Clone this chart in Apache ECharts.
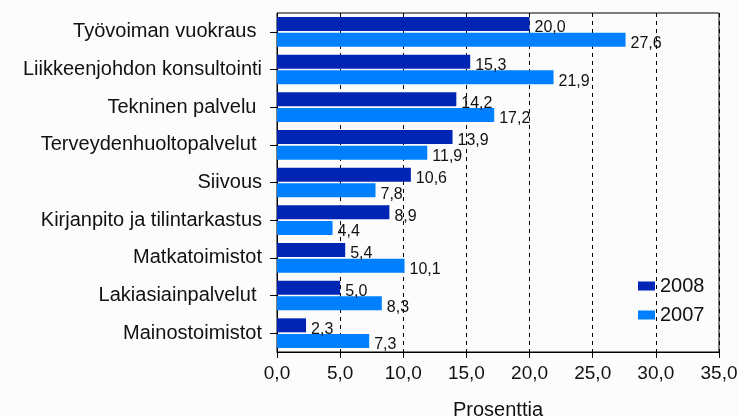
<!DOCTYPE html>
<html>
<head>
<meta charset="utf-8">
<script src="https://cdn.jsdelivr.net/npm/echarts@6/dist/echarts.min.js"></script>
<style>
  html, body { margin: 0; padding: 0; background: #fcfcfc; }
  #chart { width: 738px; height: 417px; }
</style>
</head>
<body>
<div id="chart"></div>
<script>
// toimialat (ylhäältä alas)
const categories = [
  'Työvoiman vuokraus ',
  'Liikkeenjohdon konsultointi',
  'Tekninen palvelu ',
  'Terveydenhuoltopalvelut ',
  'Siivous',
  'Kirjanpito ja tilintarkastus',
  'Matkatoimistot',
  'Lakiasiainpalvelut ',
  'Mainostoimistot'
]
const values2008 = [20.0, 15.3, 14.2, 13.9, 10.6, 8.9, 5.4, 5.0, 2.3]
const values2007 = [27.6, 21.9, 17.2, 11.9, 7.8, 4.4, 10.1, 8.3, 7.3]
const seriesNames = ['2008', '2007']
const axisName = 'Prosenttia'

const font = 'Liberation Sans'
const fmt = v => v.toFixed(1).replace('.', ',')

const label = {
  show: true,
  position: 'right',
  distance: 5,
  offset: [0, 4],
  fontFamily: font,
  fontSize: 16,
  color: '#111',
  formatter: p => fmt(p.value)
}

const chart = echarts.init(document.getElementById('chart'))
chart.setOption({
  backgroundColor: '#fcfcfc',
  animation: false,
  grid: {
    left: 277,
    right: 19,
    top: 13,
    bottom: 65,
    containLabel: false,
    outerBoundsMode: 'none',
    show: true,
    borderColor: '#000',
    borderWidth: 1,
    backgroundColor: 'transparent'
  },
  legend: {
    data: seriesNames,
    orient: 'vertical',
    left: 633,
    top: 271,
    itemWidth: 17,
    itemHeight: 9,
    itemGap: 9,
    icon: 'rect',
    textStyle: { fontFamily: font, fontSize: 20, color: '#111' }
  },
  xAxis: {
    type: 'value',
    min: 0,
    max: 35,
    interval: 5,
    name: axisName,
    nameLocation: 'middle',
    nameGap: 48,
    nameTextStyle: { fontFamily: font, fontSize: 20, color: '#111' },
    axisLine: { show: true, lineStyle: { color: '#000', width: 1 } },
    axisTick: { show: true, length: 6, lineStyle: { color: '#000' } },
    axisLabel: {
      margin: 12,
      fontFamily: font,
      fontSize: 19,
      color: '#111',
      formatter: v => fmt(v)
    },
    splitLine: {
      show: true,
      lineStyle: { color: '#000', type: [4, 4], width: 1 }
    }
  },
  yAxis: {
    type: 'category',
    data: categories,
    inverse: true,
    axisLine: { show: true, lineStyle: { color: '#000', width: 1 } },
    axisTick: { show: true, alignWithLabel: true, length: 7, lineStyle: { color: '#000' } },
    axisLabel: {
      margin: 15,
      fontFamily: font,
      fontSize: 20,
      color: '#111'
    }
  },
  series: [
    {
      name: seriesNames[0],
      type: 'bar',
      data: values2008,
      barWidth: 14,
      barGap: '12%',
      itemStyle: { color: '#0024b4' },
      label: label
    },
    {
      name: seriesNames[1],
      type: 'bar',
      data: values2007,
      barWidth: 14,
      itemStyle: { color: '#0080ff' },
      label: label
    }
  ]
})
</script>
</body>
</html>
